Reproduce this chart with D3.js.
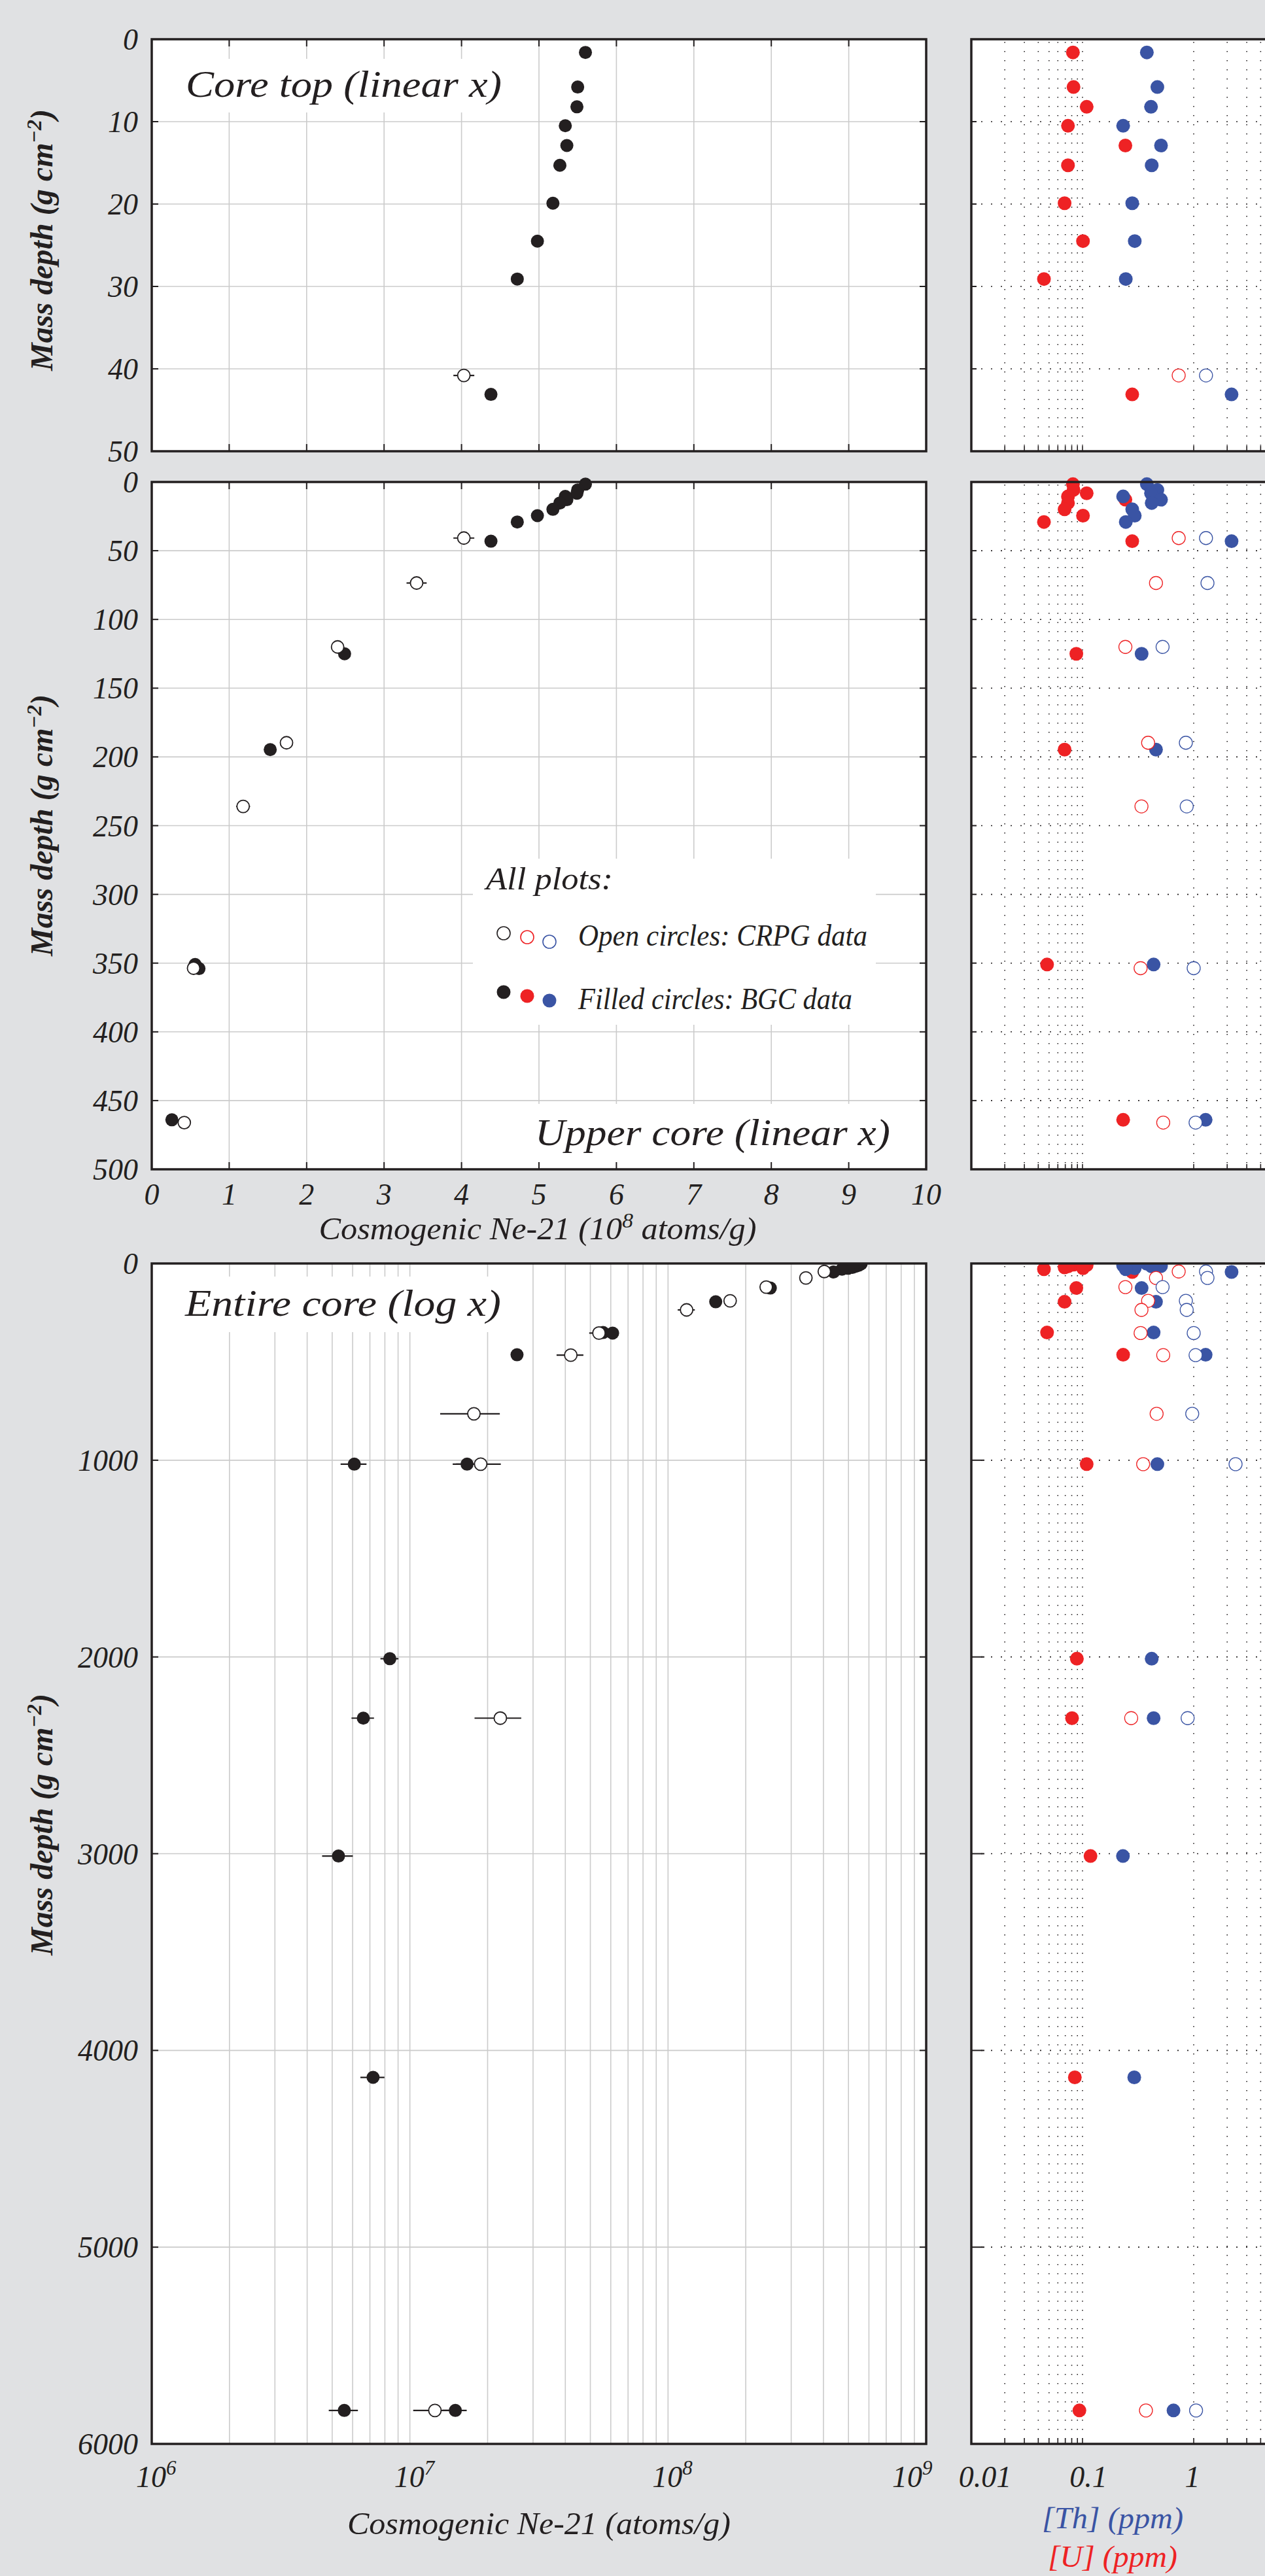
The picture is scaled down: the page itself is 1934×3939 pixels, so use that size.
<!DOCTYPE html>
<html><head><meta charset="utf-8">
<script src="https://cdn.jsdelivr.net/npm/d3@7"></script>
<style>
html,body{margin:0;padding:0;background:#e0e1e3;}
svg{display:block;}
text{font-family:"Liberation Serif","Times New Roman",serif;font-style:italic;fill:#231f20;}
</style></head><body>
<svg id="chart" width="1934" height="3939"></svg>
<script>
// ---------------- DATA ----------------
// BGC samples (filled circles)
const bgcDepth = [1.6, 5.8, 8.2, 10.5, 12.9, 15.3, 19.9, 24.5, 29.1, 43.1, 125, 194.7, 351, 354, 464, 1020, 1020, 2009, 2311, 3012, 4137, 5830, 5830];
const bgcNe    = [5.60e8, 5.50e8, 5.49e8, 5.34e8, 5.36e8, 5.27e8, 5.18e8, 4.98e8, 4.72e8, 4.38e8, 2.49e8, 1.53e8, 0.56e8, 0.61e8, 0.26e8, 6.09e6, 1.665e7, 8.36e6, 6.60e6, 5.29e6, 7.20e6, 5.57e6, 1.50e7];
const bgcNeErr = [0.06e8, 0.06e8, 0.06e8, 0.06e8, 0.06e8, 0.06e8, 0.06e8, 0.06e8, 0.06e8, 0.05e8, 0.05e8, 0.04e8, 0.03e8, 0.03e8, 0.012e8, 0.7e6, 0.2e7, 0.67e6, 0.66e6, 0.72e6, 0.77e6, 0.72e6, 0.16e7];
const bgcU     = [0.082, 0.083, 0.109, 0.074, 0.243, 0.074, 0.069, 0.101, 0.045, 0.280, 0.088, 0.069, 0.048, null, 0.232, 0.109, null, 0.089, 0.0805, 0.118, 0.0853, 0.0938, null];
const bgcTh    = [0.379, 0.471, 0.413, 0.232, 0.508, 0.419, 0.280, 0.295, 0.245, 2.19, 0.340, 0.458, 0.436, null, 1.28, 0.471, null, 0.419, 0.436, 0.231, 0.292, 0.658, null];

// CRPG samples (open circles)
const crpgDepth = [40.8, 73.5, 120, 189.7, 236, 353.7, 466, 764, 1020, 2311, 5830];
const crpgNe    = [4.03e8, 3.42e8, 2.40e8, 1.74e8, 1.18e8, 0.54e8, 0.42e8, 1.77e7, 1.88e7, 2.24e7, 1.25e7];
const crpgNeErr = [0.135e8, 0.13e8, 0.04e8, 0.04e8, 0.09e8, 0.045e8, 0.05e8, 0.46e7, 0.37e7, 0.46e7, 0.22e7];
const crpgU     = [0.733, 0.458, 0.243, 0.389, 0.339, 0.333, 0.532, 0.464, 0.351, 0.274, 0.372];
const crpgTh    = [1.29, 1.33, 0.525, 0.85, 0.865, 1.0, 1.04, 0.97, 2.38, 0.882, 1.05];

// tick labels
const linXTicks = [0,1,2,3,4,5,6,7,8,9,10];
const logXExps  = [6,7,8,9];
const ppmTicks  = [0.01, 0.1, 1];
const ppmGrid   = [0.02,0.03,0.04,0.05,0.06,0.07,0.08,0.09,0.1,1,2,3,4,5,6,7,8,9];
const depthTicks1 = [0,10,20,30,40,50];
const depthTicks2 = [0,50,100,150,200,250,300,350,400,450,500];
const depthTicks3 = [0,1000,2000,3000,4000,5000,6000];

// ---------------- DRAW ----------------
const INK='#231f20', RED='#ee2224', BLUE='#3a54a4', GRID='#cbcbcb', BG='#e0e1e3';
const svg = d3.select('#chart');
svg.append('rect').attr('width',1934).attr('height',3939).attr('fill',BG);
const defs = svg.append('defs');

const bgc = bgcDepth.map((d,i)=>({depth:d, ne:bgcNe[i], err:bgcNeErr[i], u:bgcU[i], th:bgcTh[i]}));
const crpg = crpgDepth.map((d,i)=>({depth:d, ne:crpgNe[i], err:crpgNeErr[i], u:crpgU[i], th:crpgTh[i]}));

const LX0=232, LX1=1416, RX0=1485, RX1=1995;
const rows = [
  {y0:60,  y1:690,  ticks:depthTicks1, log:false, clip:false, rtick:8},
  {y0:737, y1:1788, ticks:depthTicks2, log:false, clip:false, rtick:8},
  {y0:1932,y1:3737, ticks:depthTicks3, log:true,  clip:true,  rtick:20}
];

const xr = d3.scaleLog().domain([0.01,10]).range([RX0,RX1]);

rows.forEach((r,ri)=>{
  const y = d3.scaleLinear().domain([0, r.ticks[r.ticks.length-1]]).range([r.y0,r.y1]);
  const x = r.log ? d3.scaleLog().domain([1e6,1e9]).range([LX0,LX1])
                  : d3.scaleLinear().domain([0,10]).range([LX0,LX1]);
  const xv = d => r.log ? d : d/1e8;
  const inner = r.ticks.slice(1,-1);

  // ---- left panel ----
  const g = svg.append('g');
  g.append('rect').attr('x',LX0).attr('y',r.y0).attr('width',LX1-LX0).attr('height',r.y1-r.y0).attr('fill','#fff');
  let vgrid;
  if (r.log) {
    vgrid = [];
    [1e6,1e7,1e8].forEach(dec=>{ for(let k=1;k<10;k++){ const v=k*dec; if(v>1e6) vgrid.push(v);} });
  } else vgrid = linXTicks.slice(1,-1);
  g.selectAll('.vg').data(vgrid).join('line')
    .attr('x1',d=>x(d)).attr('x2',d=>x(d)).attr('y1',r.y0).attr('y2',r.y1)
    .attr('stroke',GRID).attr('stroke-width',1.6);
  g.selectAll('.hg').data(inner).join('line')
    .attr('x1',LX0).attr('x2',LX1).attr('y1',d=>y(d)).attr('y2',d=>y(d))
    .attr('stroke',GRID).attr('stroke-width',1.6);

  // label boxes
  if (ri===0) g.append('rect').attr('x',240).attr('y',90).attr('width',550).attr('height',82).attr('fill','#fff');
  if (ri===1) {
    g.append('rect').attr('x',800).attr('y',1688).attr('width',614).attr('height',98).attr('fill','#fff');
    g.append('rect').attr('x',723).attr('y',1313).attr('width',616).attr('height',254).attr('fill','#fff');
  }
  if (ri===2) g.append('rect').attr('x',240).attr('y',1952).attr('width',550).attr('height',85).attr('fill','#fff');

  // data
  let dg = g.append('g');
  if (r.clip) {
    const id='clipL'+ri;
    defs.append('clipPath').attr('id',id).append('rect').attr('x',LX0).attr('y',r.y0).attr('width',LX1-LX0).attr('height',r.y1-r.y0);
    dg.attr('clip-path',`url(#${id})`);
  }
  const ymax = r.ticks[r.ticks.length-1];
  const B = bgc.filter(d=>d.depth<=ymax), C = crpg.filter(d=>d.depth<=ymax);
  dg.selectAll('.eb').data(B.concat(C)).join('line')
    .attr('x1',d=>x(xv(d.ne-d.err))).attr('x2',d=>x(xv(d.ne+d.err)))
    .attr('y1',d=>y(d.depth)).attr('y2',d=>y(d.depth))
    .attr('stroke',INK).attr('stroke-width',2.2);
  dg.selectAll('.fb').data(B).join('circle')
    .attr('cx',d=>x(xv(d.ne))).attr('cy',d=>y(d.depth)).attr('r',10).attr('fill',INK);
  dg.selectAll('.oc').data(C).join('circle')
    .attr('cx',d=>x(xv(d.ne))).attr('cy',d=>y(d.depth)).attr('r',9.5)
    .attr('fill','#fff').attr('stroke',INK).attr('stroke-width',1.8);

  // frame and ticks
  g.append('rect').attr('x',LX0).attr('y',r.y0).attr('width',LX1-LX0).attr('height',r.y1-r.y0)
    .attr('fill','none').attr('stroke',INK).attr('stroke-width',3.5);
  g.selectAll('.ytl').data(inner).join('line')
    .attr('x1',LX0).attr('x2',LX0+10).attr('y1',d=>y(d)).attr('y2',d=>y(d)).attr('stroke',INK).attr('stroke-width',2);
  g.selectAll('.ytr').data(inner).join('line')
    .attr('x1',LX1-10).attr('x2',LX1).attr('y1',d=>y(d)).attr('y2',d=>y(d)).attr('stroke',INK).attr('stroke-width',2);
  if (!r.log) {
    g.selectAll('.xtb').data(vgrid).join('line')
      .attr('x1',d=>x(d)).attr('x2',d=>x(d)).attr('y1',r.y1-11).attr('y2',r.y1).attr('stroke',INK).attr('stroke-width',2);
    g.selectAll('.xtt').data(vgrid).join('line')
      .attr('x1',d=>x(d)).attr('x2',d=>x(d)).attr('y1',r.y0).attr('y2',r.y0+11).attr('stroke',INK).attr('stroke-width',2);
  }

  // y tick labels
  svg.append('g').selectAll('text').data(r.ticks).join('text')
    .attr('x',211).attr('y',d=>y(d)+16).attr('text-anchor','end').attr('font-size',46).text(d=>d);

  // y title
  const cy = [367,1262,2790][ri];
  const t = svg.append('text').attr('transform',`translate(80,${cy}) rotate(-90)`)
    .attr('text-anchor','middle').attr('font-size',48).attr('font-weight','bold')
    .attr('textLength',400).attr('lengthAdjust','spacing');
  t.append('tspan').text('Mass depth (g cm');
  t.append('tspan').attr('dy',-17).attr('font-size',32).text('\u22122');
  t.append('tspan').attr('dy',17).text(')');

  // ---- right panel ----
  const rg = svg.append('g');
  rg.append('rect').attr('x',RX0).attr('y',r.y0).attr('width',RX1-RX0).attr('height',r.y1-r.y0).attr('fill','#fff');
  rg.selectAll('.rv').data(ppmGrid).join('line')
    .attr('x1',d=>xr(d)).attr('x2',d=>xr(d)).attr('y1',r.y0+4).attr('y2',r.y1-2)
    .attr('stroke',INK).attr('stroke-width',1.6).attr('stroke-dasharray','1.6,12.4');
  rg.selectAll('.rh').data(inner).join('line')
    .attr('x1',RX0).attr('x2',RX1).attr('y1',d=>y(d)).attr('y2',d=>y(d))
    .attr('stroke',INK).attr('stroke-width',1.6).attr('stroke-dasharray','2,13');
  let rdg = rg.append('g');
  if (r.clip) {
    const id='clipR'+ri;
    defs.append('clipPath').attr('id',id).append('rect').attr('x',RX0).attr('y',r.y0).attr('width',RX1-RX0).attr('height',r.y1-r.y0);
    rdg.attr('clip-path',`url(#${id})`);
  }
  const Bc = B.filter(d=>d.u!=null);
  rdg.selectAll('.bu').data(Bc).join('circle').attr('cx',d=>xr(d.u)).attr('cy',d=>y(d.depth)).attr('r',10.5).attr('fill',RED);
  rdg.selectAll('.bt').data(Bc).join('circle').attr('cx',d=>xr(d.th)).attr('cy',d=>y(d.depth)).attr('r',10.5).attr('fill',BLUE);
  rdg.selectAll('.cu').data(C).join('circle').attr('cx',d=>xr(d.u)).attr('cy',d=>y(d.depth)).attr('r',10)
    .attr('fill','#fff').attr('stroke',RED).attr('stroke-width',1.3);
  rdg.selectAll('.ct').data(C).join('circle').attr('cx',d=>xr(d.th)).attr('cy',d=>y(d.depth)).attr('r',10)
    .attr('fill','#fff').attr('stroke',BLUE).attr('stroke-width',1.3);
  rg.append('rect').attr('x',RX0).attr('y',r.y0).attr('width',RX1-RX0).attr('height',r.y1-r.y0)
    .attr('fill','none').attr('stroke',INK).attr('stroke-width',3.5);
  rg.selectAll('.rt').data(inner).join('line')
    .attr('x1',RX0).attr('x2',RX0+r.rtick).attr('y1',d=>y(d)).attr('y2',d=>y(d)).attr('stroke',INK).attr('stroke-width',2);
  rg.selectAll('.rb').data(ppmGrid).join('line')
    .attr('x1',d=>xr(d)).attr('x2',d=>xr(d)).attr('y1',r.y1-8).attr('y2',r.y1).attr('stroke',INK).attr('stroke-width',1.6);

  // x axis labels
  if (ri===1) {
    svg.append('g').selectAll('text').data(linXTicks).join('text')
      .attr('x',d=>x(d)).attr('y',1842).attr('text-anchor','middle').attr('font-size',46).text(d=>d);
    const xt = svg.append('text').attr('x',822).attr('y',1895).attr('text-anchor','middle')
      .attr('font-size',48).attr('textLength',669).attr('lengthAdjust','spacingAndGlyphs');
    xt.append('tspan').text('Cosmogenic Ne-21 (10');
    xt.append('tspan').attr('dy',-18).attr('font-size',32).text('8');
    xt.append('tspan').attr('dy',18).text(' atoms/g)');
  }
  if (ri===2) {
    const lg = svg.append('g').selectAll('text').data(logXExps).join('text')
      .attr('x',(d,i)=> i===logXExps.length-1 ? x(Math.pow(10,d))-52 : x(Math.pow(10,d))-24)
      .attr('y',3803).attr('font-size',46);
    lg.append('tspan').text('10');
    lg.append('tspan').attr('dy',-19).attr('font-size',31).text(d=>d);
    svg.append('text').attr('x',824).attr('y',3875).attr('text-anchor','middle').attr('font-size',48)
      .attr('textLength',586).attr('lengthAdjust','spacingAndGlyphs').text('Cosmogenic Ne-21 (atoms/g)');
    const shift = v => v===0.01 ? 21 : (v===0.1 ? 9 : -2);
    svg.append('g').selectAll('text').data(ppmTicks).join('text')
      .attr('x',d=>xr(d)+shift(d)).attr('y',3803).attr('text-anchor','middle').attr('font-size',46).text(d=>d);
    svg.append('text').attr('x',1701).attr('y',3866).attr('text-anchor','middle').attr('font-size',46)
      .attr('textLength',216).attr('lengthAdjust','spacingAndGlyphs').style('fill',BLUE).text('[Th] (ppm)');
    svg.append('text').attr('x',1701).attr('y',3925).attr('text-anchor','middle').attr('font-size',46)
      .attr('textLength',198).attr('lengthAdjust','spacingAndGlyphs').style('fill',RED).text('[U] (ppm)');
  }
});

// panel titles
svg.append('text').attr('x',284).attr('y',148).attr('font-size',58).attr('textLength',483).attr('lengthAdjust','spacingAndGlyphs').text('Core top (linear x)');
svg.append('text').attr('x',818).attr('y',1751).attr('font-size',58).attr('textLength',543).attr('lengthAdjust','spacingAndGlyphs').text('Upper core (linear x)');
svg.append('text').attr('x',283).attr('y',2012).attr('font-size',58).attr('textLength',483).attr('lengthAdjust','spacingAndGlyphs').text('Entire core (log x)');

// legend
const leg = svg.append('g');
leg.append('text').attr('x',743).attr('y',1360).attr('font-size',48).attr('textLength',194).attr('lengthAdjust','spacingAndGlyphs').text('All plots:');
const legOpen = [{x:770,y:1427,c:INK},{x:806,y:1433,c:RED},{x:840,y:1440,c:BLUE}];
const legFill = [{x:770,y:1517,c:INK},{x:806,y:1523,c:RED},{x:840,y:1530,c:BLUE}];
leg.selectAll('.lo').data(legOpen).join('circle').attr('cx',d=>d.x).attr('cy',d=>d.y).attr('r',10)
  .attr('fill','#fff').attr('stroke',d=>d.c).attr('stroke-width',1.6);
leg.selectAll('.lf').data(legFill).join('circle').attr('cx',d=>d.x).attr('cy',d=>d.y).attr('r',10.5).attr('fill',d=>d.c);
leg.append('text').attr('x',884).attr('y',1446).attr('font-size',46).attr('textLength',442).attr('lengthAdjust','spacingAndGlyphs').text('Open circles: CRPG data');
leg.append('text').attr('x',884).attr('y',1543).attr('font-size',46).attr('textLength',419).attr('lengthAdjust','spacingAndGlyphs').text('Filled circles: BGC data');
</script>
</body></html>
